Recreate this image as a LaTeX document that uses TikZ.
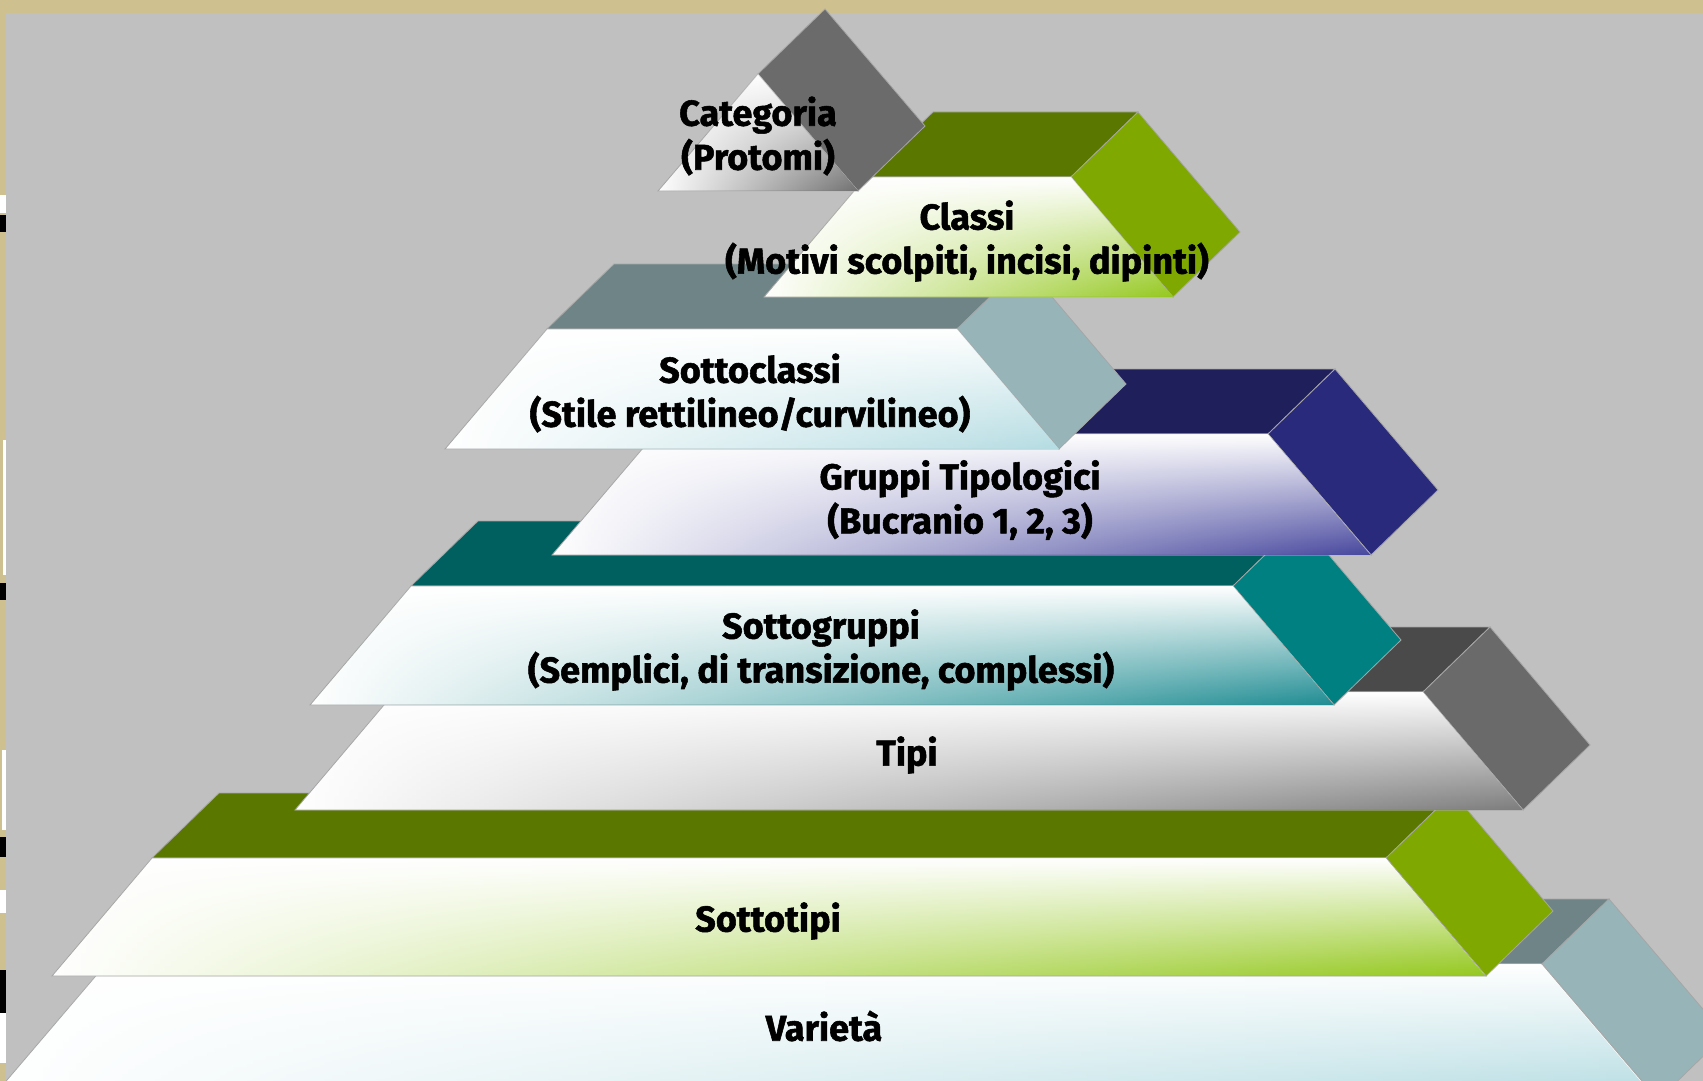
\documentclass[tikz,border=0pt]{standalone}
\usepackage{fontspec}
\setmainfont{Fira Sans}[BoldFeatures={FakeBold=1.5}]
\usetikzlibrary{fadings}

\definecolor{frame}{RGB}{207,192,143}
\definecolor{backgray}{RGB}{192,192,192}
\definecolor{greytop}{RGB}{107,107,107}
\definecolor{greyfront}{RGB}{112,112,112}
\definecolor{olivetop}{RGB}{90,120,0}
\definecolor{oliveside}{RGB}{127,168,0}
\definecolor{olivefront}{RGB}{148,200,30}
\definecolor{slatetop}{RGB}{110,132,134}
\definecolor{slateside}{RGB}{151,180,184}
\definecolor{slatefront}{RGB}{180,220,226}
\definecolor{navytop}{RGB}{31,31,92}
\definecolor{navyside}{RGB}{42,42,125}
\definecolor{navyfront}{RGB}{70,70,158}
\definecolor{tealtop}{RGB}{0,95,95}
\definecolor{tealside}{RGB}{0,128,128}
\definecolor{tealfront}{RGB}{30,140,146}
\definecolor{darktop}{RGB}{74,74,74}
\definecolor{darkside}{RGB}{106,106,106}
\definecolor{darkfront}{RGB}{125,125,125}

\begin{document}
\begin{tikzpicture}[x=0.5pt,y=-0.5pt,
        face/.style={draw=black!35,line width=0.4pt},
        front/.style={face,fill=white},
        tint/.style={top color=white,bottom color=#1,path fading=west},
        lbl/.style={font=\fontsize{18}{22}\selectfont\bfseries,align=center,inner sep=0pt}]
                \useasboundingbox (0,0) rectangle (1703,1081);
                \fill[frame] (0,0) rectangle (1703,1081);
                \fill[backgray] (6,13) rectangle (1703,1081);
                % bits of the frame picture
                \fill[white] (0,195) rectangle (6,213);
                \fill[black] (0,215) rectangle (6,232);
                \fill[white] (3,440) rectangle (6,575);
                \fill[black] (0,583) rectangle (6,600);
                \fill[white] (2,750) rectangle (6,830);
                \fill[black] (0,837) rectangle (6,857);
                \fill[white] (0,890) rectangle (6,913);
                \fill[black] (0,970) rectangle (6,1013);
                \fill[white] (0,1013) rectangle (6,1063);

                \begin{scope}
                \clip (0,0) rectangle (1703,1081);

                % Varieta
                \draw[face,fill=slatetop] (106,964) -- (173,899) -- (1609,899) -- (1542,964) -- cycle;
                \draw[face,fill=slateside] (1542,964) -- (1609,899) -- (1725,1035) -- (1658,1100) -- cycle;
                \draw[front] (-10,1100) -- (106,964) -- (1542,964) -- (1658,1100) -- cycle;
                \shade[tint=slatefront] (-10,1100) -- (106,964) -- (1542,964) -- (1658,1100) -- cycle;

                % Sottotipi
                \draw[face,fill=olivetop] (152,858) -- (219,793) -- (1453,793) -- (1386,858) -- cycle;
                \draw[face,fill=oliveside] (1386,858) -- (1453,793) -- (1553,911) -- (1486,976) -- cycle;
                \draw[front] (52,976) -- (152,858) -- (1386,858) -- (1486,976) -- cycle;
                \shade[tint=olivefront] (52,976) -- (152,858) -- (1386,858) -- (1486,976) -- cycle;

                % Tipi
                \draw[face,fill=darktop] (395,692) -- (462,627) -- (1490,627) -- (1423,692) -- cycle;
                \draw[face,fill=darkside] (1423,692) -- (1490,627) -- (1590,745) -- (1523,810) -- cycle;
                \draw[front] (295,810) -- (395,692) -- (1423,692) -- (1523,810) -- cycle;
                \shade[tint=darkfront] (295,810) -- (395,692) -- (1423,692) -- (1523,810) -- cycle;

                % Sottogruppi
                \draw[face,fill=tealtop] (411,586) -- (478,521) -- (1300,521) -- (1233,586) -- cycle;
                \draw[face,fill=tealside] (1233,586) -- (1300,521) -- (1401,640) -- (1334,705) -- cycle;
                \draw[front] (310,705) -- (411,586) -- (1233,586) -- (1334,705) -- cycle;
                \shade[tint=tealfront] (310,705) -- (411,586) -- (1233,586) -- (1334,705) -- cycle;

                % Gruppi Tipologici
                \draw[face,fill=navytop] (655,434) -- (722,369) -- (1335,369) -- (1268,434) -- cycle;
                \draw[face,fill=navyside] (1268,434) -- (1335,369) -- (1438,490) -- (1371,555) -- cycle;
                \draw[front] (552,555) -- (655,434) -- (1268,434) -- (1371,555) -- cycle;
                \shade[tint=navyfront] (552,555) -- (655,434) -- (1268,434) -- (1371,555) -- cycle;

                % Sottoclassi
                \draw[face,fill=slatetop] (547,329) -- (614,264) -- (1024,264) -- (957,329) -- cycle;
                \draw[face,fill=slateside] (957,329) -- (1024,264) -- (1126,384) -- (1059,449) -- cycle;
                \draw[front] (445,449) -- (547,329) -- (957,329) -- (1059,449) -- cycle;
                \shade[tint=slatefront] (445,449) -- (547,329) -- (957,329) -- (1059,449) -- cycle;

                % Classi
                \draw[face,fill=olivetop] (866,177) -- (933,112) -- (1138,112) -- (1071,177) -- cycle;
                \draw[face,fill=oliveside] (1071,177) -- (1138,112) -- (1240,232) -- (1173,297) -- cycle;
                \draw[front] (764,297) -- (866,177) -- (1071,177) -- (1173,297) -- cycle;
                \shade[tint=olivefront] (764,297) -- (866,177) -- (1071,177) -- (1173,297) -- cycle;

                % Categoria
                \draw[face,fill=greytop] (758,74) -- (825,9) -- (925,126) -- (858,191) -- cycle;
                \draw[front] (658,191) -- (758,74) -- (858,191) -- cycle;
                \shade[tint=greyfront] (658,191) -- (758,74) -- (858,191) -- cycle;
                \end{scope}

                \node[lbl] (categoria) at (758,136) {Categoria\\(Protomi)};
                \node[lbl] (classi) at (967,241) {Classi\\(Motivi scolpiti, incisi, dipinti)};
                \node[lbl] (sottoclassi) at (750,393) {Sottoclassi\\(Stile rettilineo/curvilineo)};
                \node[lbl] (gruppi) at (960,500) {Gruppi Tipologici\\(Bucranio 1, 2, 3)};
                \node[lbl] (sottogruppi) at (821,650) {Sottogruppi\\(Semplici, di transizione, complessi)};
                \node[lbl] (tipi) at (907,755) {Tipi};
                \node[lbl] (sottotipi) at (768,921) {Sottotipi};
                \node[lbl] (varieta) at (824,1026) {Varietà};
            \end{tikzpicture}
\end{document}
